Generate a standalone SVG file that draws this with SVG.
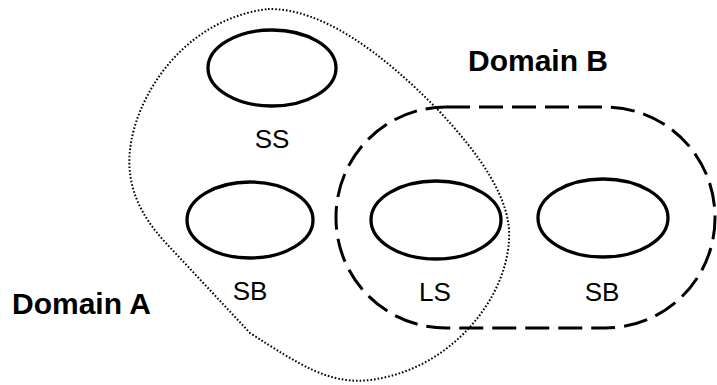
<svg xmlns="http://www.w3.org/2000/svg" width="717" height="385" viewBox="0 0 717 385">
<style>
.node{fill:none;stroke:#000;stroke-width:3.3}
.lbl{font-family:"Liberation Sans",Arial,sans-serif;font-size:26px;fill:#000;text-anchor:middle}
.dom{font-family:"Liberation Sans",Arial,sans-serif;font-size:30px;font-weight:bold;fill:#000}
.domA{fill:none;stroke:#000;stroke-width:2;stroke-dasharray:1.6 2}
.domB{fill:none;stroke:#000;stroke-width:3;stroke-dasharray:24 9}
</style>
<rect width="717" height="385" fill="#fff"/>
<g id="domainA">
<path class="domA" d="M268 9 C320 8 380 50 440 112 C480 155 512 200 509 240 C506 300 450 370 370 380 C330 385 300 365 250 333 L165 242 C140 215 126 185 130 150 C135 100 180 20 268 9 Z"/>
<text class="dom" x="12" y="314">Domain A</text>
</g>
<g id="domainB">
<rect class="domB" x="336" y="107" width="379" height="221" rx="110" ry="110"/>
<text class="dom" x="468" y="71">Domain B</text>
</g>
<g id="SS">
<ellipse class="node" cx="272" cy="68" rx="64" ry="38"/>
<text class="lbl" x="272" y="148">SS</text>
</g>
<g id="SB1">
<ellipse class="node" cx="250" cy="220" rx="63" ry="38"/>
<text class="lbl" x="250" y="300">SB</text>
</g>
<g id="LS">
<ellipse class="node" cx="436" cy="220" rx="65" ry="39"/>
<text class="lbl" x="435" y="301">LS</text>
</g>
<g id="SB2">
<ellipse class="node" cx="603" cy="218" rx="65" ry="39"/>
<text class="lbl" x="602" y="301">SB</text>
</g>
<g id="connectors"/>
</svg>
